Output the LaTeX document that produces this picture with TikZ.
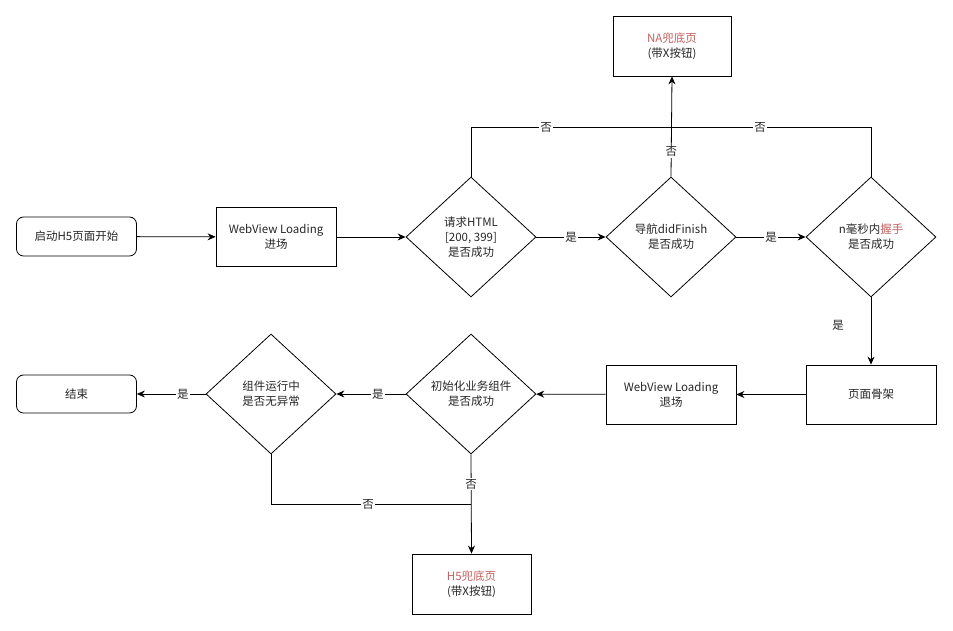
\documentclass[tikz,border=0pt]{standalone}
\usepackage{fontspec}
\setmainfont{Noto Sans CJK SC}
\usetikzlibrary{shapes.geometric,arrows.meta}
\definecolor{warnred}{RGB}{196,96,96}

\begin{document}
\begin{tikzpicture}[x=1pt,y=1pt]

\tikzset{
  txt_s/.style = {font=\fontsize{11.5}{15}\selectfont, text=black!85},
  box_s/.style = {txt_s, align=center, draw=black, line width=0.8pt,
    minimum width=120pt, minimum height=59pt, inner sep=2pt},
  rbox_s/.style = {box_s, rounded corners=7pt, minimum height=39pt},
  dia_s/.style = {txt_s, diamond, align=center, draw=black, line width=0.8pt,
    minimum width=130pt, minimum height=120pt, inner sep=0pt},
  lin_s/.style = {line width=0.8pt},
  arr_s/.style = {lin_s, -{Stealth[length=8pt,width=7pt]}},
  lab_s/.style = {txt_s, fill=white, inner sep=1pt}
}
\useasboundingbox (0,0) rectangle (953,631);

% upper row
\node [rbox_s] (start) at (76.5,394.5) {启动H5页面开始};
\node [box_s] (wvin) at (276,394) {WebView Loading\\进场};
\node [dia_s] (dhtml) at (471,394) {请求HTML\\{[200, 399]}\\是否成功};
\node [dia_s] (dnav) at (671,394) {导航didFinish\\是否成功};
\node [dia_s] (dshake) at (871,394) {n毫秒内{\color{warnred}握手}\\是否成功};
\node [box_s, minimum width=118pt, minimum height=60pt] (na) at (672,585)
  {{\color{warnred}NA兜底页}\\(带X按钮)};

% lower row
\node [box_s, minimum width=130pt] (skel) at (871,236.5) {页面骨架};
\node [box_s, minimum width=130pt] (wvout) at (671,236.5) {WebView Loading\\退场};
\node [dia_s] (dinit) at (471,237) {初始化业务组件\\是否成功};
\node [dia_s] (drun) at (271,237) {组件运行中\\是否无异常};
\node [rbox_s, minimum height=38pt] (finish) at (76.5,237) {结束};
\node [box_s, minimum width=119pt, minimum height=60pt] (h5) at (471.5,47)
  {{\color{warnred}H5兜底页}\\(带X按钮)};

\coordinate (jtop) at (671,504);
\coordinate (jbot) at (471,127);

% connectors
\draw [arr_s] (start) -- (wvin);
\draw [arr_s] (wvin) -- (dhtml);
\draw [arr_s] (dhtml) -- node [lab_s] {是} (dnav);
\draw [arr_s] (dnav) -- node [lab_s] {是} (dshake);
\draw [lin_s] (dhtml.north) -- (dhtml.north |- jtop) -- node [lab_s, pos=0.375] {否} (jtop);
\draw [lin_s] (dshake.north) -- (dshake.north |- jtop) -- node [lab_s, pos=0.555] {否} (jtop);
\draw [arr_s] (dnav.north) -- node [lab_s, pos=0.25] {否} (na.south);
\draw [arr_s] (dshake.south) -- node [lab_s, pos=0.41, xshift=-33pt] {是} (skel.north);
\draw [arr_s] (skel) -- (wvout);
\draw [arr_s] (wvout) -- (dinit);
\draw [arr_s] (dinit) -- node [lab_s, pos=0.4] {是} (drun);
\draw [arr_s] (drun) -- node [lab_s, pos=0.33] {是} (finish);
\draw [arr_s] (dinit.south) -- node [lab_s, pos=0.3] {否} (h5.north);
\draw [lin_s] (drun.south) -- (drun.south |- jbot) -- node [lab_s, pos=0.485] {否} (jbot);

\end{tikzpicture}
\end{document}
